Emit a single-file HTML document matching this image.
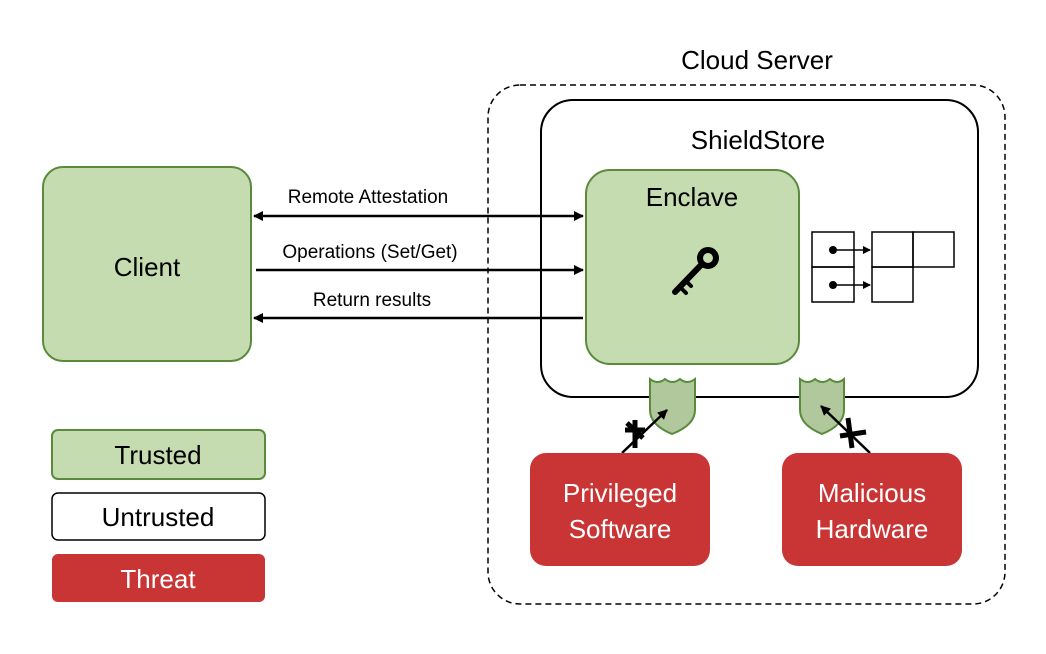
<!DOCTYPE html>
<html><head><meta charset="utf-8"><style>body{margin:0;background:#fff}svg{display:block}</style></head><body>
<svg width="1046" height="654" viewBox="0 0 1046 654" font-family="Liberation Sans, sans-serif">
<defs>
<marker id="a" markerWidth="10" markerHeight="10" refX="9" refY="5" orient="auto-start-reverse" markerUnits="userSpaceOnUse"><path d="M0,0 L10,5 L0,10 z" fill="#000"/></marker>
<marker id="s" markerWidth="8" markerHeight="8" refX="7" refY="4" orient="auto" markerUnits="userSpaceOnUse"><path d="M0,0 L8,4 L0,8 z" fill="#000"/></marker>
</defs>
<rect width="1046" height="654" fill="#fff"/>
<text x="757" y="69" font-size="26" text-anchor="middle">Cloud Server</text>
<rect x="488" y="85" width="517" height="519" rx="32" fill="none" stroke="#000" stroke-width="1.5" stroke-dasharray="6,4"/>
<rect x="541" y="100" width="437" height="297" rx="32" fill="#fff" stroke="#000" stroke-width="2"/>
<text x="758" y="149" font-size="26" text-anchor="middle">ShieldStore</text>
<rect x="586" y="170" width="213" height="194" rx="24" fill="#c5dcb0" stroke="#5a8a3c" stroke-width="2"/>
<text x="692" y="206" font-size="26" text-anchor="middle">Enclave</text>
<g stroke="#000" fill="none" stroke-linecap="round">
<circle cx="708" cy="258" r="8" stroke-width="6"/>
<path d="M702,264 L675,292" stroke-width="6"/>
<path d="M680,287 L686,293 M686,281 L691,286" stroke-width="4"/>
</g>
<g fill="none" stroke="#000" stroke-width="1.5">
<rect x="812" y="232" width="42" height="35"/><rect x="812" y="267" width="42" height="35"/>
<rect x="872" y="232" width="41" height="35"/><rect x="913" y="232" width="41" height="35"/>
<rect x="872" y="267" width="41" height="35"/>
<path d="M833,250 L870,250" marker-end="url(#s)"/><path d="M833,285 L870,285" marker-end="url(#s)"/>
</g>
<circle cx="833" cy="250" r="4"/><circle cx="833" cy="285" r="4"/>
<rect x="43" y="167" width="208" height="194" rx="20" fill="#c5dcb0" stroke="#5a8a3c" stroke-width="2"/>
<text x="147" y="276" font-size="26" text-anchor="middle">Client</text>
<g stroke="#000" stroke-width="2.5">
<line x1="254" y1="216" x2="583" y2="216" marker-start="url(#a)" marker-end="url(#a)"/>
<line x1="256" y1="270" x2="583" y2="270" marker-end="url(#a)"/>
<line x1="583" y1="318" x2="254" y2="318" marker-end="url(#a)"/>
</g>
<g font-size="19" text-anchor="middle">
<text x="368" y="203">Remote Attestation</text>
<text x="370" y="258">Operations (Set/Get)</text>
<text x="372" y="306">Return results</text>
</g>
<g fill="#b0c89c" stroke="#5a8a3c" stroke-width="2">
<path d="M650,379 Q658,385 665,379 Q672,385 680,379 Q687,385 695,379 L695,410 Q695,425 672,434 Q650,425 650,410 z"/>
<path d="M800,379 Q808,385 815,379 Q822,385 830,379 Q837,385 844,379 L844,410 Q844,425 822,434 Q800,425 800,410 z"/>
</g>
<g stroke="#000" stroke-width="2.5">
<line x1="622" y1="453" x2="667" y2="410" marker-end="url(#a)"/>
<line x1="870" y1="453" x2="821" y2="406" marker-end="url(#a)"/>
</g>
<g stroke="#000" stroke-width="5">
<line x1="625" y1="430" x2="645" y2="430"/><line x1="635" y1="420" x2="635" y2="448"/><line x1="627" y1="423" x2="643" y2="438"/>
<line x1="840" y1="436" x2="866" y2="432"/><line x1="848" y1="418" x2="852" y2="448"/>
</g>
<rect x="530" y="453" width="180" height="113" rx="16" fill="#c93535"/>
<rect x="782" y="453" width="180" height="113" rx="16" fill="#c93535"/>
<g font-size="26" fill="#fff" text-anchor="middle">
<text x="620" y="502">Privileged</text><text x="620" y="538">Software</text>
<text x="872" y="502">Malicious</text><text x="872" y="538">Hardware</text>
</g>
<rect x="52" y="430" width="213" height="49" rx="6" fill="#c5dcb0" stroke="#5a8a3c" stroke-width="2"/>
<rect x="52" y="493" width="213" height="47" rx="6" fill="#fff" stroke="#000" stroke-width="1.5"/>
<rect x="52" y="554" width="213" height="48" rx="6" fill="#c93535"/>
<g font-size="26" text-anchor="middle">
<text x="158" y="464">Trusted</text>
<text x="158" y="526">Untrusted</text>
<text x="158" y="588" fill="#fff">Threat</text>
</g>
</svg>
</body></html>
